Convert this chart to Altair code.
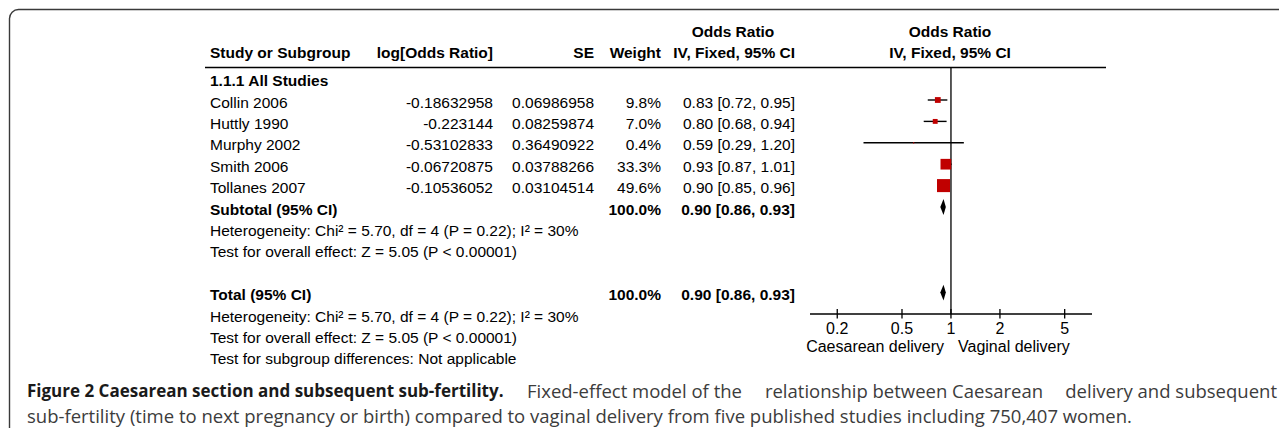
import altair as alt
import pandas as pd

# ---------------- data ----------------
studies = ["Collin 2006", "Huttly 1990", "Murphy 2002", "Smith 2006", "Tollanes 2007"]
log_or = ["-0.18632958", "-0.223144", "-0.53102833", "-0.06720875", "-0.10536052"]
se = ["0.06986958", "0.08259874", "0.36490922", "0.03788266", "0.03104514"]
weights = [9.8, 7.0, 0.4, 33.3, 49.6]
odds = [0.83, 0.80, 0.59, 0.93, 0.90]
ci_low = [0.72, 0.68, 0.29, 0.87, 0.85]
ci_high = [0.95, 0.94, 1.20, 1.01, 0.96]
study_slots = [1, 2, 3, 4, 5]

group_label = ["1.1.1 All Studies"]
group_slot = [0]

summary_labels = ["Subtotal (95% CI)", "Total (95% CI)"]
summary_slots = [6, 10]
summary_weight = [100.0, 100.0]
summary_or = [0.90, 0.90]
summary_low = [0.86, 0.86]
summary_high = [0.93, 0.93]

note_lines = [
    "Heterogeneity: Chi\u00b2 = 5.70, df = 4 (P = 0.22); I\u00b2 = 30%",
    "Test for overall effect: Z = 5.05 (P < 0.00001)",
    "Heterogeneity: Chi\u00b2 = 5.70, df = 4 (P = 0.22); I\u00b2 = 30%",
    "Test for overall effect: Z = 5.05 (P < 0.00001)",
    "Test for subgroup differences: Not applicable",
]
note_slots = [7, 8, 11, 12, 13]

tick_values = [0.2, 0.5, 1, 2, 5]
tick_labels = ["0.2", "0.5", "1", "2", "5"]
axis_domain = [0.136, 7.36]
favours = ["Caesarean delivery", "Vaginal delivery"]

col_headers = ["Study or Subgroup", "log[Odds Ratio]", "SE", "Weight", "IV, Fixed, 95% CI"]
or_header = ["Odds Ratio", "IV, Fixed, 95% CI"]

caption_bold = "Figure 2 Caesarean section and subsequent sub-fertility."
caption_rest = ["Fixed-effect model of the", "relationship between Caesarean", "delivery and subsequent"]
caption_line2 = ("sub-fertility (time to next pregnancy or birth) compared to vaginal delivery "
                 "from five published studies including 750,407 women.")

# ---------------- tables ----------------
study_df = pd.DataFrame({
    "study": studies, "logor": log_or, "se": se, "w": weights,
    "wtxt": [f"{w:.1f}%" for w in weights],
    "or": odds, "lo": ci_low, "hi": ci_high,
    "citxt": [f"{o:.2f} [{l:.2f}, {h:.2f}]" for o, l, h in zip(odds, ci_low, ci_high)],
    "slot": study_slots,
})
summary_df = pd.DataFrame({
    "label": summary_labels, "slot": summary_slots,
    "wtxt": [f"{w:.1f}%" for w in summary_weight],
    "citxt": [f"{o:.2f} [{l:.2f}, {h:.2f}]" for o, l, h in zip(summary_or, summary_low, summary_high)],
})
diamond_rows = []
for i, (s, o, l, h) in enumerate(zip(summary_slots, summary_or, summary_low, summary_high)):
    half = 0.37
    diamond_rows += [
        {"id": i, "x": l, "y": s, "y2": s},
        {"id": i, "x": o, "y": s - half, "y2": s + half},
        {"id": i, "x": h, "y": s, "y2": s},
    ]
diamond_df = pd.DataFrame(diamond_rows)
note_df = pd.DataFrame({"txt": note_lines, "slot": note_slots})
group_df = pd.DataFrame({"txt": group_label, "slot": group_slot})
tick_df = pd.DataFrame({"v": tick_values, "lab": tick_labels})
axis_df = pd.DataFrame({"a": [axis_domain[0]], "b": [axis_domain[1]]})
null_df = pd.DataFrame({"v": [1.0]})
one = pd.DataFrame({"k": [0]})

# ---------------- scales / styles ----------------
FONT = "Liberation Sans"
FS = 15.5
CAP_FONT = "Open Sans"
xs = alt.Scale(type="log", domain=axis_domain, range=[802, 1084])
ys = alt.Scale(domain=[0, 13], range=[70.6, 348.8])
Y = alt.Y("slot:Q", scale=ys, axis=None)


def label(text, x, y, align="left", bold=False, size=FS, font=FONT, color="#000000", baseline="middle"):
    return alt.Chart(one).mark_text(
        align=align, baseline=baseline, font=font, fontSize=size,
        fontWeight="bold" if bold else "normal", color=color,
    ).encode(x=alt.value(x), y=alt.value(y), text=alt.value(text))


def col_text(df, field, x, align="left", bold=False):
    return alt.Chart(df).mark_text(
        align=align, baseline="middle", font=FONT, fontSize=FS, dy=2.5,
        fontWeight="bold" if bold else "normal", color="#000000",
    ).encode(x=alt.value(x), y=Y, text=f"{field}:N")


layers = []

# frame
layers.append(alt.Chart(one).mark_rect(
    fillOpacity=0, stroke="#3a3a3a", strokeWidth=1.4, cornerRadius=9
).encode(x=alt.value(1.5), x2=alt.value(1500), y=alt.value(1.5), y2=alt.value(800)))

# header rule
layers.append(alt.Chart(one).mark_rule(color="#000000", strokeWidth=1.6).encode(
    x=alt.value(197), x2=alt.value(1098), y=alt.value(59.5)))

# header texts
HY1, HY2 = 24, 45
layers += [
    label(col_headers[0], 202, HY2, bold=True),
    label(col_headers[1], 485, HY2, align="right", bold=True),
    label(col_headers[2], 586, HY2, align="right", bold=True),
    label(col_headers[3], 653, HY2, align="right", bold=True),
    label(col_headers[4], 787, HY2, align="right", bold=True),
    label(or_header[0], 725, HY1, align="center", bold=True),
    label(or_header[0], 942, HY1, align="center", bold=True),
    label(or_header[1], 942, HY2, align="center", bold=True),
]

# table body
layers += [
    col_text(group_df, "txt", 202, bold=True),
    col_text(study_df, "study", 202),
    col_text(study_df, "logor", 485, align="right"),
    col_text(study_df, "se", 586, align="right"),
    col_text(study_df, "wtxt", 653, align="right"),
    col_text(study_df, "citxt", 787, align="right"),
    col_text(summary_df, "label", 202, bold=True),
    col_text(summary_df, "wtxt", 653, align="right", bold=True),
    col_text(summary_df, "citxt", 787, align="right", bold=True),
    col_text(note_df, "txt", 202),
]

# forest: null line
layers.append(alt.Chart(null_df).mark_rule(color="#000000", strokeWidth=1.3).encode(
    x=alt.X("v:Q", scale=xs, axis=None), y=alt.value(59.5), y2=alt.value(306)))
# CI lines
layers.append(alt.Chart(study_df).mark_rule(color="#000000", strokeWidth=1.4).encode(
    x=alt.X("lo:Q", scale=xs, axis=None), x2="hi:Q", y=Y))
# squares
layers.append(alt.Chart(study_df).mark_square(color="#c00000", opacity=1, filled=True).encode(
    x=alt.X("or:Q", scale=xs, axis=None), y=Y,
    size=alt.Size("w:Q", scale=alt.Scale(domain=[0, 50], range=[0, 171]), legend=None)))
# diamonds
layers.append(alt.Chart(diamond_df).mark_area(color="#000000", opacity=1).encode(
    x=alt.X("x:Q", scale=xs, axis=None),
    y=alt.Y("y:Q", scale=ys, axis=None), y2="y2:Q", detail="id:N"))
# axis line
layers.append(alt.Chart(axis_df).mark_rule(color="#000000", strokeWidth=1.4).encode(
    x=alt.X("a:Q", scale=xs, axis=None), x2="b:Q", y=alt.value(306)))
# ticks
layers.append(alt.Chart(tick_df).mark_rule(color="#000000", strokeWidth=1.3).encode(
    x=alt.X("v:Q", scale=xs, axis=None), y=alt.value(301), y2=alt.value(310.5)))
# tick labels
layers.append(alt.Chart(tick_df).mark_text(
    font=FONT, fontSize=16, baseline="middle", align="center", color="#000000"
).encode(x=alt.X("v:Q", scale=xs, axis=None), y=alt.value(320.5), text="lab:N"))
# favours labels
layers += [
    label(favours[0], 936, 339, align="right", size=16),
    label(favours[1], 950, 339, align="left", size=16),
]

# caption (first line is justified in the original: spread over three chunks)
CAP_BOLD = "#1a1a1a"
CAP_REG = "#3c3c3c"
CAP_Y1, CAP_Y2 = 383.5, 408.5
layers += [
    label(caption_bold, 19, CAP_Y1, bold=True, size=17, font=CAP_FONT, color=CAP_BOLD),
    label(caption_rest[0], 519, CAP_Y1, size=18.5, font=CAP_FONT, color=CAP_REG),
    label(caption_rest[1], 896, CAP_Y1, align="center", size=18.5, font=CAP_FONT, color=CAP_REG),
    label(caption_rest[2], 1269, CAP_Y1, align="right", size=18.5, font=CAP_FONT, color=CAP_REG),
    label(caption_line2, 19, CAP_Y2, size=18.5, font=CAP_FONT, color=CAP_REG),
]

chart = alt.layer(*layers).properties(
    width=1271, height=420,
    autosize=alt.AutoSizeParams(type="none"),
    padding=0,
).configure_view(stroke=None)

chart.save("out.html", embed_options={"renderer": "svg", "actions": False})
